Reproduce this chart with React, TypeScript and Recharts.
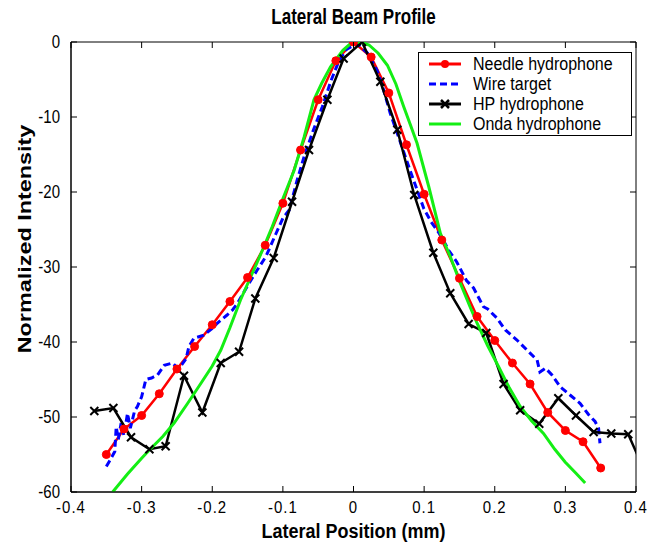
import React from "react";
import { LineChart, Line, XAxis, YAxis, ReferenceArea, Label, Legend } from "recharts";

// ---------- data ----------
const xTicks = [-0.4, -0.3, -0.2, -0.1, 0, 0.1, 0.2, 0.3, 0.4];
const xTickLabels = ["-0.4", "-0.3", "-0.2", "-0.1", "0", "0.1", "0.2", "0.3", "0.4"];
const yTicks = [-60, -50, -40, -30, -20, -10, 0];
const yTickLabels = ["-60", "-50", "-40", "-30", "-20", "-10", "0"];

const seriesNames = ["Needle hydrophone", "Wire target", "HP hydrophone", "Onda hydrophone"];

const needleX = [-0.35, -0.325, -0.3, -0.275, -0.25, -0.225, -0.2, -0.175, -0.15, -0.125, -0.1, -0.075, -0.05, -0.025, 0, 0.025, 0.05, 0.075, 0.1, 0.125, 0.15, 0.175, 0.2, 0.225, 0.25, 0.275, 0.3, 0.325, 0.35];
const needleY = [-55, -51.6, -49.8, -46.9, -43.6, -40.6, -37.7, -34.6, -31.4, -27.1, -21.5, -14.4, -7.7, -2.5, 0, -2, -6.8, -13.7, -20.3, -26.4, -31.5, -36.6, -39.8, -42.8, -45.6, -49.4, -51.8, -53.3, -56.8];

const wireX = [-0.35, -0.345, -0.338, -0.336, -0.333, -0.329, -0.325, -0.32, -0.316, -0.31, -0.306, -0.3, -0.294, -0.286, -0.2775, -0.268, -0.256, -0.249, -0.243, -0.237, -0.233, -0.226, -0.212, -0.2, -0.193, -0.179, -0.171, -0.164, -0.15, -0.137, -0.124, -0.11, -0.1, -0.091, -0.08, -0.07, -0.057, -0.044, -0.032, -0.021, -0.01, 0.005, 0.02, 0.033, 0.042, 0.052, 0.065, 0.08, 0.09, 0.0995, 0.11, 0.123, 0.135, 0.146, 0.16, 0.17, 0.184, 0.19, 0.203, 0.215, 0.231, 0.248, 0.26, 0.264, 0.272, 0.281, 0.293, 0.307, 0.321, 0.333, 0.342, 0.347, 0.349];
const wireY = [-56.6, -55.8, -54.6, -51.3, -53, -50.8, -52.5, -49.5, -51.5, -49.2, -48.6, -47.3, -45, -44.8, -44.4, -43.1, -42.8, -43.5, -43, -42.2, -40.6, -39.5, -39.1, -38.2, -37.5, -36.4, -35.7, -34.8, -32.5, -30.5, -28.6, -25.6, -23.5, -22.4, -18.5, -15.3, -11.8, -8.6, -5.2, -2.6, -1, -0.2, -1.5, -3.7, -6.2, -9.5, -13, -17.1, -19.7, -22.2, -24, -25.7, -27.8, -29.3, -31.8, -32.8, -35.3, -35.6, -36.8, -38.4, -39.7, -41.3, -42.4, -44, -43.5, -44.4, -46, -47.1, -48.2, -49.7, -50.6, -51.5, -53.5];

const hpX = [-0.367, -0.34, -0.315, -0.289, -0.266, -0.24, -0.214, -0.188, -0.162, -0.139, -0.113, -0.087, -0.063, -0.037, -0.014, 0.012, 0.038, 0.062, 0.086, 0.113, 0.137, 0.163, 0.188, 0.2125, 0.236, 0.263, 0.29, 0.315, 0.34, 0.365, 0.389, 0.414];
const hpY = [-49.2, -48.8, -52.7, -54.3, -53.9, -44.5, -49.4, -42.8, -41.3, -34.2, -28.8, -21.3, -14.4, -7.7, -2.2, 0, -5.3, -11.7, -20.4, -28.1, -33.5, -37.6, -38.8, -45.6, -49.1, -50.9, -47.5, -49.8, -52, -52.2, -52.3, -57.6];

const ondaX = [-0.341, -0.32, -0.3, -0.287, -0.27, -0.254, -0.235, -0.216, -0.2, -0.188, -0.175, -0.16, -0.145, -0.13, -0.115, -0.1, -0.084, -0.07, -0.056, -0.045, -0.0325, -0.015, -0.004, 0.01, 0.022, 0.035, 0.048, 0.06, 0.071, 0.08, 0.09, 0.1066, 0.123, 0.137, 0.151, 0.165, 0.175, 0.19, 0.2055, 0.22, 0.236, 0.252, 0.269, 0.285, 0.2996, 0.315, 0.328];
const ondaY = [-60, -57.6, -55.5, -54.2, -52.6, -50.8, -48.2, -45.5, -43.2, -41.1, -38.1, -34.4, -31.2, -28, -24.6, -20.9, -17.1, -12.7, -7.7, -5.5, -3.3, -1.1, -0.2, 0, -0.4, -1.5, -3.1, -5.6, -8.6, -10.9, -13.5, -19.3, -25.5, -28.6, -32.1, -35.3, -37.5, -40.5, -43.3, -46, -48.6, -50.5, -52.2, -54.3, -56, -57.5, -58.8];

const toPoints = (xs: number[], ys: number[]) => xs.map((x, i) => ({ x, y: ys[i] }));
const needleData = toPoints(needleX, needleY);
const wireData = toPoints(wireX, wireY);
const hpData = toPoints(hpX, hpY);
const ondaData = toPoints(ondaX, ondaY);

// ---------- style ----------
const FONT = "'Liberation Sans', Arial, Helvetica, sans-serif";
const W = 654;
const H = 543;
const M = { top: 34, right: 26, bottom: 0, left: 0 };
const Y_AXIS_W = 63;
const X_AXIS_H = 59;
const PLOT_W = W - M.left - M.right - Y_AXIS_W;
const PLOT_H = H - M.top - M.bottom - X_AXIS_H;
const TICK_LEN = 6;
const RED = "#ff0000";
const BLUE = "#0000ff";
const BLACK = "#000000";
const GREEN = "#14ee14";

const XTick = (props: any) => {
  const { x, y, payload } = props;
  const idx = xTicks.indexOf(payload.value);
  const label = idx >= 0 ? xTickLabels[idx] : String(payload.value);
  return (
    <g>
      <line x1={x} x2={x} y1={y} y2={y - TICK_LEN} stroke={BLACK} strokeWidth={1} />
      <line x1={x} x2={x} y1={y - PLOT_H} y2={y - PLOT_H + TICK_LEN} stroke={BLACK} strokeWidth={1} />
      <text
        transform={`translate(${x},${y + 15}) scale(1,1.15)`}
        textAnchor="middle"
        dominantBaseline="central"
        fontFamily={FONT}
        fontSize={15}
        letterSpacing={1}
        fill={BLACK}
      >
        {label}
      </text>
    </g>
  );
};

const YTick = (props: any) => {
  const { x, y, payload } = props;
  const idx = yTicks.indexOf(payload.value);
  const label = idx >= 0 ? yTickLabels[idx] : String(payload.value);
  return (
    <g>
      <line x1={x} x2={x + TICK_LEN} y1={y} y2={y} stroke={BLACK} strokeWidth={1} />
      <line x1={x + PLOT_W} x2={x + PLOT_W - TICK_LEN} y1={y} y2={y} stroke={BLACK} strokeWidth={1} />
      <text
        transform={`translate(${x - 11},${y}) scale(1,1.2)`}
        textAnchor="end"
        dominantBaseline="central"
        fontFamily={FONT}
        fontSize={15}
        fill={BLACK}
      >
        {label}
      </text>
    </g>
  );
};

const renderXLabel = (props: any) => {
  const vb = props.viewBox || {};
  const cx = vb.x + vb.width / 2;
  const cy = vb.y + 39;
  return (
    <text
      transform={`translate(${cx},${cy}) scale(1,1.15)`}
      textAnchor="middle"
      dominantBaseline="central"
      fontFamily={FONT}
      fontWeight="bold"
      fontSize={18}
      fill={BLACK}
    >
      Lateral Position (mm)
    </text>
  );
};

const renderYLabel = (props: any) => {
  const vb = props.viewBox || {};
  const cx = vb.x + 17;
  const cy = vb.y + 197;
  return (
    <text
      transform={`translate(${cx},${cy}) rotate(-90) scale(1.3,1)`}
      textAnchor="middle"
      dominantBaseline="central"
      fontFamily={FONT}
      fontWeight="bold"
      fontSize={18}
      fill={BLACK}
    >
      Normalized Intensity
    </text>
  );
};

const NeedleDot = (p: any) => <circle key={`n${p.index}`} cx={p.cx} cy={p.cy} r={4} fill={RED} stroke={RED} strokeWidth={1} />;
const HpDot = (p: any) => (
  <path
    key={`h${p.index}`}
    d={`M${p.cx - 4},${p.cy - 4}L${p.cx + 4},${p.cy + 4}M${p.cx - 4},${p.cy + 4}L${p.cx + 4},${p.cy - 4}`}
    stroke={BLACK}
    strokeWidth={2}
    fill="none"
  />
);

const legendSamples = [
  { color: RED, dash: undefined as string | undefined, marker: "dot" },
  { color: BLUE, dash: "7 4", marker: "none" },
  { color: BLACK, dash: undefined, marker: "x" },
  { color: GREEN, dash: undefined, marker: "none" },
];

const renderLegend = () => (
  <div
    style={{
      width: 212,
      height: 81,
      border: "1px solid #000",
      background: "#fff",
      paddingTop: 1,
      boxSizing: "content-box",
      fontFamily: FONT,
    }}
  >
    {seriesNames.map((name, i) => {
      const s = legendSamples[i];
      return (
        <div key={name} style={{ height: 20, display: "flex", alignItems: "center" }}>
          <svg width={54} height={20} style={{ display: "block" }}>
            <line x1={10} x2={42} y1={10} y2={10} stroke={s.color} strokeWidth={3} strokeDasharray={s.dash} />
            {s.marker === "dot" && <circle cx={26} cy={10} r={4} fill={s.color} />}
            {s.marker === "x" && (
              <path d="M22,6L30,14M22,14L30,6" stroke={s.color} strokeWidth={2.5} />
            )}
          </svg>
          <span style={{ fontSize: 16, color: "#000", display: "inline-block", transform: "scaleY(1.15)", whiteSpace: "nowrap" }}>
            {name}
          </span>
        </div>
      );
    })}
  </div>
);

export default function App() {
  return (
    <div style={{ position: "relative", width: W, height: H, background: "#fff" }}>
      <div
        style={{
          position: "absolute",
          left: M.left + Y_AXIS_W,
          width: PLOT_W,
          top: 1,
          textAlign: "center",
          fontFamily: FONT,
          fontWeight: "bold",
          fontSize: 17,
          lineHeight: "18px",
          transform: "scaleY(1.25)",
          color: "#000",
          zIndex: 2,
        }}
      >
        Lateral Beam Profile
      </div>
      <LineChart width={W} height={H} margin={M}>
        <XAxis
          dataKey="x"
          type="number"
          domain={[-0.4, 0.4]}
          ticks={xTicks}
          allowDataOverflow
          height={X_AXIS_H}
          tickSize={0}
          tickMargin={0}
          tickLine={false}
          axisLine={{ stroke: BLACK }}
          tick={<XTick />}
          interval={0}
        >
          <Label content={renderXLabel} />
        </XAxis>
        <YAxis
          type="number"
          domain={[-60, 0]}
          ticks={yTicks}
          allowDataOverflow
          width={Y_AXIS_W}
          tickSize={0}
          tickMargin={0}
          tickLine={false}
          axisLine={{ stroke: BLACK }}
          tick={<YTick />}
          interval={0}
        >
          <Label content={renderYLabel} />
        </YAxis>
        <ReferenceArea x1={-0.4} x2={0.4} y1={-60} y2={0} fill="none" fillOpacity={0} stroke={BLACK} strokeWidth={1} ifOverflow="visible" />
        <Line
          data={needleData}
          dataKey="y"
          name={seriesNames[0]}
          type="linear"
          stroke={RED}
          strokeWidth={2.5}
          dot={NeedleDot}
          activeDot={false}
          isAnimationActive={false}
        />
        <Line
          data={wireData}
          dataKey="y"
          name={seriesNames[1]}
          type="linear"
          stroke={BLUE}
          strokeWidth={3}
          strokeDasharray="7 4"
          dot={false}
          activeDot={false}
          isAnimationActive={false}
        />
        <Line
          data={hpData}
          dataKey="y"
          name={seriesNames[2]}
          type="linear"
          stroke={BLACK}
          strokeWidth={2.5}
          dot={HpDot}
          activeDot={false}
          isAnimationActive={false}
        />
        <Line
          data={ondaData}
          dataKey="y"
          name={seriesNames[3]}
          type="linear"
          stroke={GREEN}
          strokeWidth={3}
          dot={false}
          activeDot={false}
          isAnimationActive={false}
        />
        <Legend
          layout="vertical"
          align="center"
          verticalAlign="middle"
          content={renderLegend}
          wrapperStyle={{ position: "absolute", left: 410, top: 44, width: 214, height: 83, margin: 0, padding: 0 }}
        />
      </LineChart>
    </div>
  );
}
